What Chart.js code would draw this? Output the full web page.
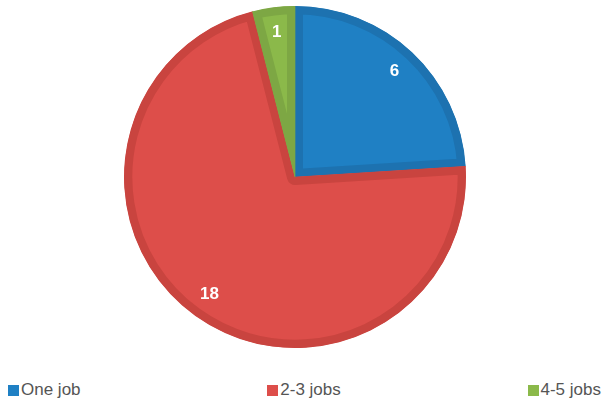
<!DOCTYPE html>
<html>
<head>
<meta charset="utf-8">
<script src="https://cdn.jsdelivr.net/npm/chart.js@4.4.1/dist/chart.umd.min.js"></script>
<style>
  body { margin: 0; background: #fff; font-family: "Liberation Sans", Arial, sans-serif; }
  #wrap { position: relative; width: 604px; height: 402px; }
  #box { position: absolute; left: 0; top: 0; width: 604px; height: 354px; }
  #leyenda { position: absolute; left: 8px; right: 3px; top: 380px; display: flex; justify-content: space-between; font-size: 17px; line-height: 20px; color: #555; }
  #leyenda span { display: flex; align-items: center; }
  #leyenda i { display: inline-block; width: 11px; height: 11px; margin-right: 2px; }
</style>
</head>
<body>
<div id="wrap">
  <div id="box"><canvas id="pieChart"></canvas></div>
  <div id="leyenda"></div>
</div>
<script>
const categorias = ["One job", "2-3 jobs", "4-5 jobs"];
const valores = [6, 18, 1];
const colores = ["#1f80c4", "#dd4e4a", "#8bb94a"];
const bordes = ["#1d72b0", "#c9443f", "#7da744"];

// etiquetas blancas dentro de cada porción
const etiquetasPlugin = {
  id: "etiquetas",
  afterDatasetsDraw(chart) {
    const ctx = chart.ctx;
    const meta = chart.getDatasetMeta(0);
    ctx.save();
    ctx.fillStyle = "#fff";
    ctx.font = "bold 17px 'Liberation Sans', Arial, sans-serif";
    ctx.textAlign = "center";
    ctx.textBaseline = "middle";
    meta.data.forEach((arc, i) => {
      const p = arc.getProps(["x", "y", "startAngle", "endAngle", "outerRadius"], true);
      const ang = (p.startAngle + p.endAngle) / 2;
      const r = p.outerRadius * 0.85;
      ctx.fillText(valores[i], p.x + Math.cos(ang) * r, p.y + Math.sin(ang) * r);
    });
    ctx.restore();
  }
};

function armarLeyenda() {
  const cont = document.getElementById("leyenda");
  categorias.forEach((c, i) => {
    const item = document.createElement("span");
    item.innerHTML = '<i style="background:' + colores[i] + '"></i>' + c;
    cont.appendChild(item);
  });
}

document.addEventListener("DOMContentLoaded", () => {
  new Chart(document.getElementById("pieChart"), {
    type: "pie",
    data: {
      labels: categorias,
      datasets: [{
        data: valores,
        backgroundColor: colores,
        borderColor: bordes,
        borderWidth: 8,
        borderAlign: "inner"
      }]
    },
    options: {
      responsive: true,
      maintainAspectRatio: false,
      animation: false,
      radius: 171,
      layout: { padding: { right: 14 } },
      plugins: { legend: { display: false }, tooltip: { enabled: false } }
    },
    plugins: [etiquetasPlugin]
  });
  armarLeyenda();
});
</script>
</body>
</html>
